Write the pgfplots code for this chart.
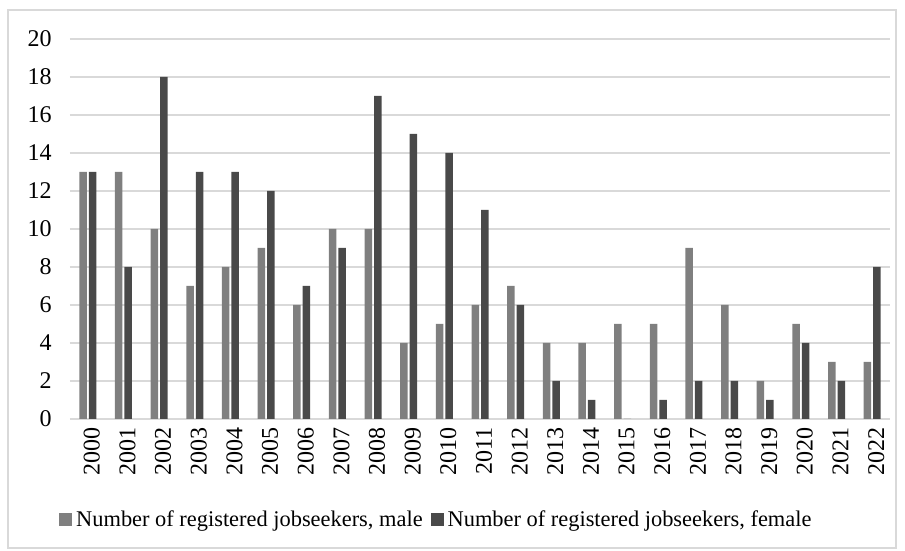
\documentclass[border=0pt]{standalone}
\usepackage{fontspec}
\setmainfont{Liberation Serif}
\usepackage{pgfplots}
\pgfplotsset{compat=1.18}
\definecolor{male}{HTML}{7F7F7F}
\definecolor{female}{HTML}{494949}
\definecolor{gridc}{HTML}{D9D9D9}
\begin{document}
\fontsize{12}{14}\selectfont
\begin{tikzpicture}
\begin{axis}[
  at={(0,0)}, anchor=south west,
  scale only axis, width=410pt, height=190pt,
  ybar=1pt, bar width=3.75pt,
  xmin=-0.5, xmax=22.5, ymin=0, ymax=20,
  ytick={0,2,...,20},
  xtick={0,...,22},
  xticklabels={2000,2001,2002,2003,2004,2005,2006,2007,2008,2009,2010,2011,2012,2013,2014,2015,2016,2017,2018,2019,2020,2021,2022},
  x tick label style={rotate=90, anchor=east, font=\fontsize{12}{14}\selectfont},
  y tick label style={font=\fontsize{12}{14}\selectfont},
  /pgf/number format/assume math mode=true,
  major tick length=0pt,
  axis x line*=bottom, axis y line*=left,
  x axis line style={draw=gridc, line width=0.75pt, -},
  y axis line style={draw=none},
  ymajorgrids, grid style={draw=gridc, line width=0.75pt},
  xticklabel style={yshift=-2pt},
  yticklabel style={xshift=-5pt},
  legend columns=2,
  legend style={at={(0.448,0)}, yshift=-50.5pt, anchor=center, draw=none, fill=none,
    font=\fontsize{11.2}{13}\selectfont, /tikz/every even column/.append style={column sep=2pt}},
  legend image code/.code={\fill[#1] (0pt,-3.2pt) rectangle (6.5pt,3.3pt);},
  legend cell align=left,
]
\addplot[fill=male, draw=none] coordinates {
(0,13) (1,13) (2,10) (3,7) (4,8) (5,9) (6,6) (7,10) (8,10) (9,4) (10,5) (11,6) (12,7) (13,4) (14,4) (15,5) (16,5) (17,9) (18,6) (19,2) (20,5) (21,3) (22,3)};
\addplot[fill=female, draw=none] coordinates {
(0,13) (1,8) (2,18) (3,13) (4,13) (5,12) (6,7) (7,9) (8,17) (9,15) (10,14) (11,11) (12,6) (13,2) (14,1) (15,0) (16,1) (17,2) (18,2) (19,1) (20,4) (21,2) (22,8)};
\legend{{Number of registered jobseekers, male}, {Number of registered jobseekers, female}}
\end{axis}
\pgfresetboundingbox
\draw[gridc, line width=0.75pt] (-31pt,-64.5pt) rectangle (413pt,204.5pt);
\path[use as bounding box] (-35pt,-66pt) rectangle (417.5pt,209.5pt);
\end{tikzpicture}
\end{document}
